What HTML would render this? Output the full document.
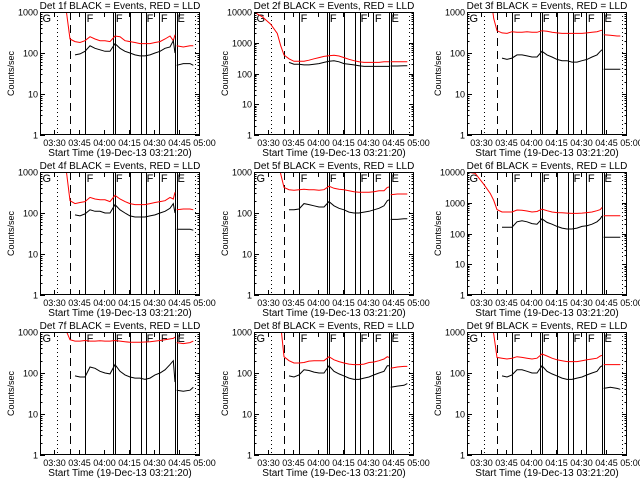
<!DOCTYPE html>
<html><head><meta charset="utf-8"><style>
html,body{margin:0;padding:0;background:#fff;}
svg{display:block;font-family:"Liberation Sans",sans-serif;}
</style></head><body>
<svg id="chart" width="640" height="480" viewBox="0 0 640 480"></svg>
<script>
const times=[0,5,10,14,16,18,21,24,27,30,33,36,39,42,45,48,51,54,57,60,63,66,69,72,75,78,80,81,81.5,82,86,90,92];
const N=null;
const detNames=["1f","2f","3f","4f","5f","6f","7f","8f","9f"];
const decades=[3,4,3,3,3,4,3,3,3];
const yTickLabels3=["1","10","100","1000"];
const yTickLabels4=["1","10","100","1000","10000"];
const xTickLabels=["03:30","03:45","04:00","04:15","04:30","04:45","05:00"];
const xTickTimes=[8.67,23.67,38.67,53.67,68.67,83.67,98.67];
const red1=[3000,3000,3000,3000,900,220,190,180,200,250,220,200,200,190,260,250,200,190,180,170,170,170,180,190,220,260,200,280,N,150,140,150,150];
const blk1=[N,N,N,N,N,N,90,95,110,150,130,120,110,110,170,130,110,100,90,85,85,90,100,110,130,140,200,100,N,50,55,55,50];
const red2=[10000,7000,4000,2000,800,400,300,250,250,250,270,300,330,360,380,390,370,330,290,260,240,230,230,230,230,240,240,240,N,240,240,240,240];
const blk2=[N,N,N,N,N,N,230,200,200,190,190,200,210,230,250,260,240,210,200,190,180,170,170,170,170,170,170,170,N,175,175,180,180];
const red3=[3000,3000,3000,3000,700,350,310,300,330,320,320,330,320,320,350,340,320,310,300,300,300,300,300,310,320,330,350,360,N,280,270,260,260];
const blk3=[N,N,N,N,N,N,75,70,75,90,90,85,80,80,110,90,80,70,65,65,60,60,65,70,80,90,110,120,N,40,40,40,40];
const red4=[3000,3000,3000,3000,900,200,170,180,190,240,220,210,210,190,270,220,190,170,160,160,160,170,180,190,200,240,220,320,N,120,125,125,120];
const blk4=[N,N,N,N,N,N,90,85,95,120,110,110,100,100,160,120,100,85,80,80,80,85,90,100,110,130,170,100,N,40,40,40,38];
const red5=[3000,3000,3000,3000,900,420,370,360,370,380,370,370,360,370,450,400,380,370,350,330,320,320,320,330,350,350,420,430,N,280,290,290,290];
const blk5=[N,N,N,N,N,N,120,120,125,170,160,150,140,140,190,150,130,120,105,100,100,105,110,120,130,150,200,210,N,70,70,72,72];
const red6=[10000,9000,4000,2000,1200,600,500,500,500,580,570,540,500,520,620,550,500,480,470,460,450,450,460,480,500,550,600,700,N,380,380,380,380];
const blk6=[N,N,N,N,N,N,160,160,160,240,260,240,210,200,300,230,200,170,150,140,140,150,170,180,200,240,300,370,N,75,75,75,75];
const red7=[3000,3000,3000,3000,1000,650,600,600,620,600,600,610,600,600,620,600,580,560,560,560,570,580,600,620,650,680,700,750,N,550,520,550,600];
const blk7=[N,N,N,N,N,N,85,80,80,140,130,110,100,95,160,110,90,80,75,75,70,75,90,100,120,160,200,60,N,38,36,38,45];
const red8=[3000,3000,3000,3000,1500,250,200,175,175,180,195,200,200,200,250,210,190,175,165,160,160,165,180,185,200,220,250,240,N,130,140,145,145];
const blk8=[N,N,N,N,N,N,85,80,90,120,115,105,100,100,150,110,95,85,75,70,70,75,80,90,100,110,150,150,N,45,48,50,55];
const red9=[3000,3000,3000,3000,900,240,230,220,230,250,240,230,220,230,290,260,230,210,200,190,190,190,200,210,220,230,260,270,N,160,160,160,160];
const blk9=[N,N,N,N,N,N,85,80,90,120,120,110,100,100,150,110,95,85,75,70,70,75,80,90,100,110,140,150,N,42,45,42,40];
const redSeries=[red1,red2,red3,red4,red5,red6,red7,red8,red9];
const blackSeries=[blk1,blk2,blk3,blk4,blk5,blk6,blk7,blk8,blk9];
const dottedEvents=[10.2,93];
const dashedEvents=[18];
const solidEvents=[27,43.8,45,54,60.6,63.6,71.4,81,82.2];
const flagLabels=["G","F","F","F","F","E"];
const flagTimes=[1.5,28,45.5,64,72.5,82.5];

const NS="http://www.w3.org/2000/svg";
const svg=document.getElementById('chart');
const colLeft=[40,254,467], rowTop=[12,172,332], W=160, H=123, TMAX=96;
function mk(tag,attrs,parent){const e=document.createElementNS(NS,tag);for(const k in attrs)e.setAttribute(k,attrs[k]);(parent||svg).appendChild(e);return e;}

for(let p=0;p<9;p++){
  const L=colLeft[p%3], T=rowTop[Math.floor(p/3)], dec=decades[p];
  const xs=t=>L+t/TMAX*W;
  const xc=t=>Math.round(xs(t))+0.5;
  const ys=v=>T+H-Math.log10(v)/dec*H;
  const g=mk('g',{});
  
  
  const cp=mk('clipPath',{id:'cp'+p},g);
  mk('rect',{x:L,y:T,width:W,height:H},cp);
  const title=mk('text',{x:L+W/2,y:T-3,'text-anchor':'middle','font-size':10},g);
  title.textContent='Det '+detNames[p]+' BLACK = Events, RED = LLD';
  
  
  const ev=mk('g',{'clip-path':'url(#cp'+p+')',stroke:'#000','stroke-width':1,'shape-rendering':'crispEdges'},g);
  
  
  dottedEvents.forEach(t=>mk('line',{x1:xc(t),x2:xc(t),y1:T,y2:T+H,'stroke-dasharray':'1,3'},ev));
  dashedEvents.forEach(t=>mk('line',{x1:xc(t),x2:xc(t),y1:T,y2:T+H,'stroke-dasharray':'8,5'},ev));
  solidEvents.forEach(t=>mk('line',{x1:xc(t),x2:xc(t),y1:T,y2:T+H},ev));
  flagLabels.forEach((f,i)=>{const tx=mk('text',{x:xs(flagTimes[i]),y:T+10,'font-size':11,stroke:'none'},ev);tx.textContent=f;});
  [[redSeries[p],'#ff0000','lld-line'],[blackSeries[p],'#000000','events-line']].forEach(([arr,col,nm])=>{
    let d='',pen=false;
    arr.forEach((v,i)=>{ if(v==null){pen=false;return;} d+=(pen?'L':'M')+xs(times[i]).toFixed(1)+' '+ys(v).toFixed(1);pen=true;});
    const path=mk('path',{d:d,fill:'none',stroke:col,'stroke-width':1,'clip-path':'url(#cp'+p+')'},g);
    
    
  });
  const fr=mk('rect',{x:L+0.5,y:T+0.5,width:W-1,height:H-1,fill:'none',stroke:'#000','shape-rendering':'crispEdges'},g);
  
  
  for(let d=0;d<=dec;d++){
    const y=Math.round(ys(Math.pow(10,d)))+0.5;
    mk('line',{x1:L,x2:L+5,y1:y,y2:y,stroke:'#000','shape-rendering':'crispEdges'},g);
    mk('line',{x1:L+W-5,x2:L+W,y1:y,y2:y,stroke:'#000','shape-rendering':'crispEdges'},g);
    const lb=mk('text',{x:L-2,y:y+3,'text-anchor':'end','font-size':9},g);
    lb.textContent=(dec===4?yTickLabels4:yTickLabels3)[d];
    
    
    if(d<dec) for(let m=2;m<10;m++){const yy=Math.round(ys(m*Math.pow(10,d)))+0.5;
      mk('line',{x1:L,x2:L+2.5,y1:yy,y2:yy,stroke:'#000','shape-rendering':'crispEdges'},g);
      mk('line',{x1:L+W-2.5,x2:L+W,y1:yy,y2:yy,stroke:'#000','shape-rendering':'crispEdges'},g);}
  }
  const yt=mk('text',{x:0,y:0,'text-anchor':'middle','font-size':9,transform:'translate('+(L-26)+','+(T+H/2)+') rotate(-90)'},g);
  yt.textContent='Counts/sec';
  
  
  xTickLabels.forEach((s,i)=>{
    const x=xc(xTickTimes[i]);
    if(x<L+W){mk('line',{x1:x,x2:x,y1:T+H,y2:T+H-5,stroke:'#000','shape-rendering':'crispEdges'},g);mk('line',{x1:x,x2:x,y1:T,y2:T+5,stroke:'#000','shape-rendering':'crispEdges'},g);}
    const lb=mk('text',{x:x,y:T+H+11,'text-anchor':'middle','font-size':9},g);
    lb.textContent=s;
    
    
  });
  const xt=mk('text',{x:L+W/2,y:T+H+21,'text-anchor':'middle','font-size':10},g);
  xt.textContent='Start Time (19-Dec-13 03:21:20)';
  
  
}
</script>
</body></html>
